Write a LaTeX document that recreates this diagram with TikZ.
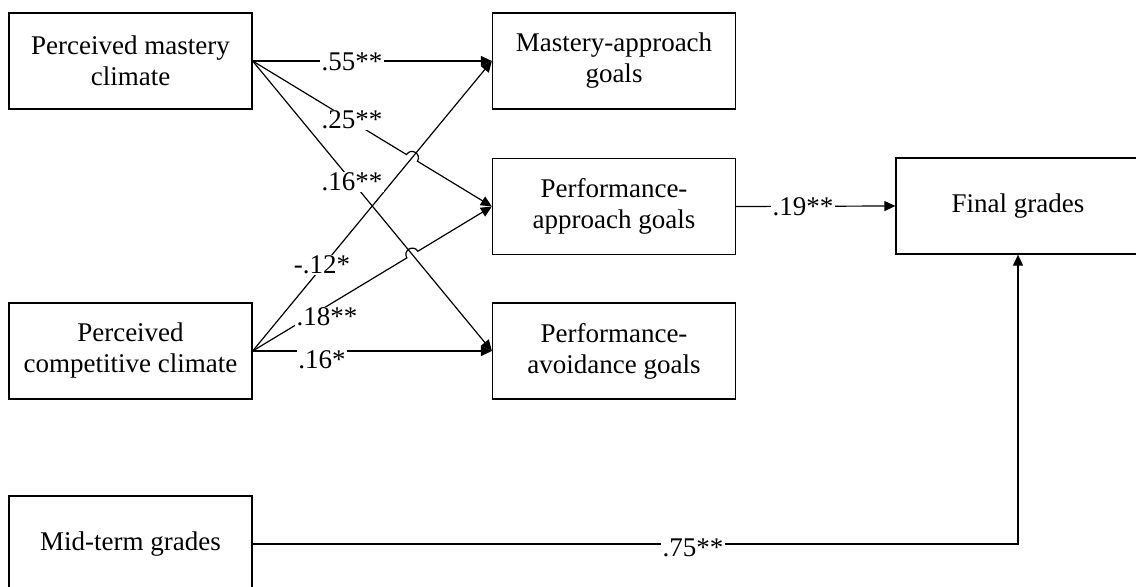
\documentclass[tikz,border=0pt]{standalone}
\usepackage{fontspec}
\setmainfont{Liberation Serif}
\usetikzlibrary{arrows.meta,calc}
\tikzset{
  box/.style={draw, line width=0.65pt, minimum width=121.5pt, minimum height=48pt, align=center, inner sep=0pt, font=\fontsize{13.5pt}{15.5pt}\selectfont},
  conn/.style={line width=0.6pt, -{Triangle[length=5.5pt,width=5pt]}},
  plain/.style={line width=0.6pt},
  coef/.style={fill=white, inner sep=0.6pt, font=\fontsize{13.5pt}{15.5pt}\selectfont}
}
\begin{document}
\begin{tikzpicture}[x=0.5pt, y=-0.5pt]
\useasboundingbox (0,0) rectangle (1136,587);
\clip (0,0) rectangle (1136,587);
% boxes
\node[box] (pm)  at (130.5,61)  {Perceived mastery\\climate};
\node[box] (pc)  at (130.5,351) {Perceived\\competitive climate};
\node[box] (mt)  at (130.5,544) {Mid-term grades};
\node[box] (mag) at (614,61)    {Mastery-approach\\goals};
\node[box] (pag) at (614,206.5) {Performance-\\approach goals};
\node[box] (pav) at (614,351)   {Performance-\\avoidance goals};
\node[box, minimum width=122pt] (fg) at (1018,206) {Final grades};
% crossing points
\coordinate (X1) at (intersection of pm.east--pag.west and pc.east--mag.west);
\coordinate (X2) at (intersection of pc.east--pag.west and pm.east--pav.west);
\coordinate (X1a) at ($(X1)!3.2pt!(pm.east)$);
\coordinate (X1b) at ($(X1)!3.2pt!(pag.west)$);
\coordinate (X1c) at ($(X1a)!4.3pt!90:(X1)$);
\coordinate (X1d) at ($(X1b)!4.3pt!-90:(X1)$);
\coordinate (X2a) at ($(X2)!3.2pt!(pc.east)$);
\coordinate (X2b) at ($(X2)!3.2pt!(pag.west)$);
\coordinate (X2c) at ($(X2a)!4.3pt!90:(X2)$);
\coordinate (X2d) at ($(X2b)!4.3pt!-90:(X2)$);
% connectors
\draw[conn] (pm.east) -- (mag.west);
\draw[conn] (pm.east) -- (X1a) .. controls (X1c) and (X1d) .. (X1b) -- (pag.west);
\draw[conn] (pm.east) -- (pav.west);
\draw[conn] (pc.east) -- (mag.west);
\draw[conn] (pc.east) -- (X2a) .. controls (X2c) and (X2d) .. (X2b) -- (pag.west);
\draw[conn] (pc.east) -- (pav.west);
\draw[conn] (pag.east) -- (fg.west);
\coordinate (corner) at (fg.south |- mt.east);
\draw[conn] (mt.east) -- (corner) -- (fg.south);
% coefficients
\node[coef] (l1) at (352,62)  {.55**};
\node[coef] (l2) at (352,120) {.25**};
\node[coef] (l3) at (352,182) {.16**};
\node[coef] (l4) at (322,265) {-.12*};
\node[coef] (l5) at (327,317) {.18**};
\node[coef] (l6) at (322,360) {.16*};
\node[coef] (l7) at (803,207) {.19**};
\node[coef] (l8) at (693,548) {.75**};
\end{tikzpicture}
\end{document}
